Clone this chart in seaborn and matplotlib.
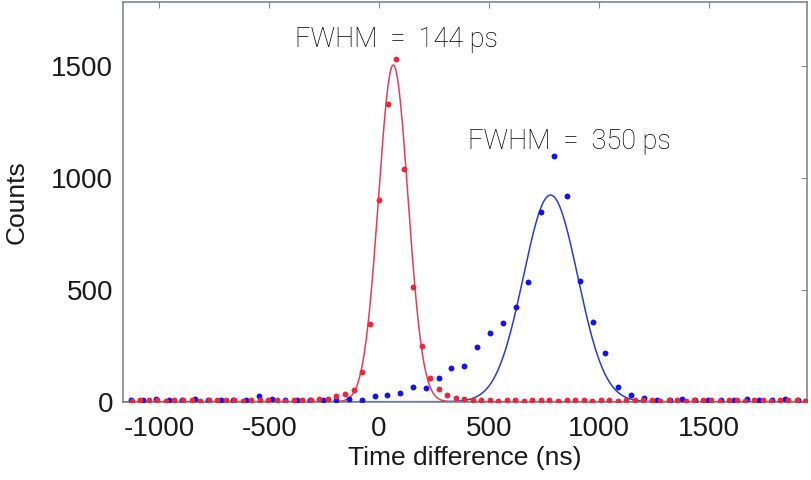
import numpy as np
import pandas as pd
import matplotlib
matplotlib.use('Agg')
import matplotlib.pyplot as plt
import seaborn as sns

sns.set_theme(style='white')
plt.rcParams['font.family'] = ['Liberation Sans', 'DejaVu Sans']
plt.rcParams['axes.unicode_minus'] = False

# red histogram (narrow peak)
red_t = [-1125, -1086, -1047, -1009, -970, -931, -892, -853, -815, -776,
         -737, -698, -659, -621, -582, -543, -504, -465, -427, -388,
         -349, -310, -271, -233, -194, -155, -116, -78, -39, 0,
         39, 78, 116, 155, 194, 233, 272, 310, 349, 388,
         427, 466, 504, 543, 582, 621, 660, 698, 737, 776,
         815, 854, 892, 931, 970, 1009, 1048, 1086, 1125, 1164,
         1203, 1242, 1280, 1319, 1358, 1397, 1436, 1474, 1513, 1552,
         1591, 1630, 1668, 1707, 1746, 1785, 1824, 1862, 1901, 1940]
red_counts = [4, 8, 6, 9, 5, 7, 8, 6, 5, 9,
              7, 6, 8, 5, 9, 7, 6, 8, 5, 7,
              6, 10, 13, 14, 24, 34, 54, 133, 349, 902,
              1331, 1534, 1042, 512, 251, 105, 55, 30, 18, 12,
              8, 6, 9, 5, 7, 8, 4, 6, 9, 7,
              5, 8, 6, 7, 4, 9, 6, 5, 8, 7,
              6, 9, 4, 7, 8, 5, 6, 9, 7, 5,
              8, 6, 4, 7, 9, 5, 8, 6, 7, 5]

# blue histogram (broad peak)
blue_t = [-1130, -1072, -1013, -955, -896, -838, -780, -721, -663, -604,
          -546, -488, -429, -371, -312, -254, -196, -137, -79, -20,
          38, 96, 155, 213, 272, 330, 388, 447, 505, 564,
          622, 680, 739, 797, 856, 914, 972, 1031, 1089, 1148,
          1206, 1264, 1323, 1381, 1440, 1498, 1556, 1615, 1673, 1732,
          1790, 1849, 1907]
blue_counts = [9, 7, 12, 10, 8, 11, 6, 9, 10, 8,
               27, 12, 8, 10, 7, 9, 7, 13, 10, 24,
               30, 39, 64, 61, 107, 151, 160, 244, 306, 354,
               423, 537, 849, 1100, 919, 540, 355, 217, 67, 30,
               17, 10, 8, 11, 7, 9, 10, 8, 12, 7,
               9, 11, 8]

# gaussian fits: peak height, centre, FWHM (in axis units)
red_fit = (1507, 65, 158)
blue_fit = (925, 781, 291)

red_col = '#e8283c'
red_line = '#ec3a55'
blue_col = '#1414ea'
blue_line = '#2a3cd2'


def gauss(p, t):
    a, mu, fw = p
    s = fw / 2.3548
    return a * np.exp(-(t - mu) ** 2 / (2 * s ** 2))


tt = np.linspace(-1170, 1950, 1200)
fits = pd.DataFrame({'t': tt, 'red': gauss(red_fit, tt), 'blue': gauss(blue_fit, tt)})

fig = plt.figure(figsize=(8.12, 4.8), dpi=100)
ax = fig.add_axes([0.151, 0.163, 0.8425, 0.8335])

sns.lineplot(data=fits, x='t', y='red', color=red_line, linewidth=1.1, ax=ax)
sns.lineplot(data=fits, x='t', y='blue', color=blue_line, linewidth=1.1, ax=ax)
sns.scatterplot(x=blue_t, y=blue_counts, color=blue_col, s=18, linewidth=0, ax=ax, zorder=3)
sns.scatterplot(x=red_t, y=red_counts, color=red_col, s=18, linewidth=0, ax=ax, zorder=3)

ax.set_xlim(-1167, 1947)
ax.set_ylim(0, 1790)
ax.set_xticks([-1000, -500, 0, 500, 1000, 1500])
ax.set_yticks([0, 500, 1000, 1500])
ax.tick_params(direction='in', length=4, width=0.8, color='#7d8a90',
               top=True, right=True, labelsize=20, labelcolor='#1a1a1a')
ax.tick_params(axis='x', pad=10)
ax.tick_params(axis='y', pad=7)
for sp in ax.spines.values():
    sp.set_color('#7d8a90')
    sp.set_linewidth(1.2)

ax.set_xlabel('Time difference (ns)', fontsize=19, color='#1a1a1a', labelpad=3)
ax.set_ylabel('Counts', fontsize=19, color='#1a1a1a', labelpad=16)

fwhm_font = dict(fontsize=19.5, va='center', ha='left', color='#000000',
                 fontweight='light', family=['Roboto', 'DejaVu Sans'])
ax.text(-382, 1619, 'FWHM  =  144 ps', **fwhm_font)
ax.text(405, 1164, 'FWHM  =  350 ps', **fwhm_font)

fig.savefig('out.png', dpi=100)
